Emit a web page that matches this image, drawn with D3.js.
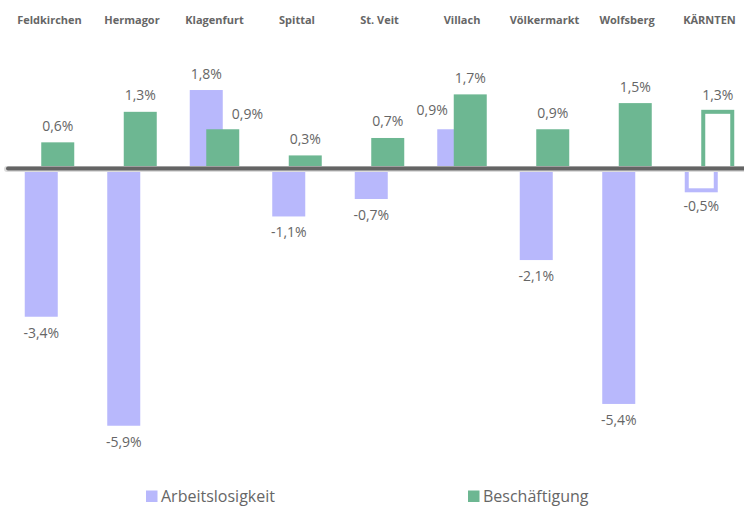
<!DOCTYPE html>
<html>
<head>
<meta charset="utf-8">
<script src="https://cdn.jsdelivr.net/npm/d3@7"></script>
<style>
  html, body { margin: 0; padding: 0; background: #fff; }
  svg { display: block; }
</style>
</head>
<body>
<svg id="chart" width="744" height="506"></svg>
<script>
// ---- data ----
const categories = ["Feldkirchen", "Hermagor", "Klagenfurt", "Spittal", "St. Veit", "Villach", "Völkermarkt", "Wolfsberg", "KÄRNTEN"];
const arbeitslosigkeit = [-3.4, -5.9, 1.8, -1.1, -0.7, 0.9, -2.1, -5.4, -0.5];
const beschaeftigung   = [0.6, 1.3, 0.9, 0.3, 0.7, 1.7, 0.9, 1.5, 1.3];
const seriesNames = ["Arbeitslosigkeit", "Beschäftigung"];
const totalCategory = "KÄRNTEN";

// ---- styles ----
const colors = ["#B8B8FC", "#6DB792"];
const textColor = "#666666";
const W = 744, H = 506;
const barW = 33;

const svg = d3.select("#chart");

const x = d3.scaleBand().domain(categories).range([8.25, 750.75]).padding(0);
const y = d3.scaleLinear().domain([-6, 2]).range([430.1, 81.3]);

const fmt = v => d3.format(".1f")(v).replace(".", ",").replace("−", "-") + "%";

const series = [arbeitslosigkeit, beschaeftigung];
const offsets = [-24.75, -8.25];

// bars
const barData = [];
series.forEach((vals, s) => {
  vals.forEach((v, i) => {
    const c = categories[i];
    const cx = x(c) + x.bandwidth() / 2;
    barData.push({ s, i, c, v, x0: cx + offsets[s], x1: cx + offsets[s] + barW });
  });
});

const gBars = svg.append("g");
gBars.selectAll("rect.bar")
  .data(barData)
  .join("rect")
  .attr("class", "bar")
  .attr("x", d => d.c === totalCategory ? d.x0 + 2 : d.x0)
  .attr("width", d => d.c === totalCategory ? barW - 4 : barW)
  .attr("y", d => Math.min(y(d.v), y(0)))
  .attr("height", d => Math.abs(y(d.v) - y(0)))
  .attr("fill", d => d.c === totalCategory ? "#ffffff" : colors[d.s])
  .attr("stroke", d => d.c === totalCategory ? colors[d.s] : "none")
  .attr("stroke-width", 4);

// zero line
svg.append("line")
  .attr("x1", 7).attr("x2", W + 5)
  .attr("y1", y(0) + 0.5).attr("y2", y(0) + 0.5)
  .attr("stroke", "#dcdcdc").attr("stroke-width", 6).attr("stroke-linecap", "round");
svg.append("line")
  .attr("x1", 8).attr("x2", W + 5)
  .attr("y1", y(0)).attr("y2", y(0))
  .attr("stroke", "#646464").attr("stroke-width", 4).attr("stroke-linecap", "round");

// category labels
svg.append("g").selectAll("text")
  .data(categories)
  .join("text")
  .attr("x", d => x(d) + x.bandwidth() / 2)
  .attr("y", 23.5)
  .attr("text-anchor", "middle")
  .attr("font-family", "'Open Sans', sans-serif")
  .attr("font-weight", "bold")
  .attr("font-size", 11)
  .attr("fill", textColor)
  .text(d => d);

// value labels with simple collision avoidance against the neighbouring bar
const gLab = svg.append("g");
barData.forEach(d => {
  const cx = (d.x0 + d.x1) / 2;
  const yb = d.v >= 0 ? y(d.v) - 11.5 : y(d.v) + 21;
  const t = gLab.append("text")
    .attr("x", cx)
    .attr("y", yb)
    .attr("text-anchor", "middle")
    .attr("font-family", "'Open Sans', sans-serif")
    .attr("font-size", 14)
    .attr("fill", textColor)
    .text(fmt(d.v));
  const w = t.node().getComputedTextLength();
  const other = barData.find(o => o.i === d.i && o.s !== d.s);
  const top = yb - 11, bot = yb + 2;
  const oTop = Math.min(y(other.v), y(0)), oBot = Math.max(y(other.v), y(0));
  const l = cx - w / 2, r = cx + w / 2;
  if (r > other.x0 && l < other.x1 && bot > oTop && top < oBot) {
    if (d.s === 1) {
      t.attr("x", other.x1 + 9 + w / 2).attr("y", yb + 1.5);
    } else {
      t.attr("x", other.x0 - 6 - w / 2).attr("y", yb - 2.5);
    }
  }
});

// legend
const legendX = [146, 468];
const lg = svg.append("g");
seriesNames.forEach((name, s) => {
  lg.append("rect")
    .attr("x", legendX[s]).attr("y", 490.5)
    .attr("width", 11.5).attr("height", 11.5)
    .attr("fill", colors[s]);
  lg.append("text")
    .attr("x", legendX[s] + 15).attr("y", 501.5)
    .attr("font-family", "'Open Sans', sans-serif")
    .attr("font-size", 16)
    .attr("fill", textColor)
    .text(name);
});
</script>
</body>
</html>
